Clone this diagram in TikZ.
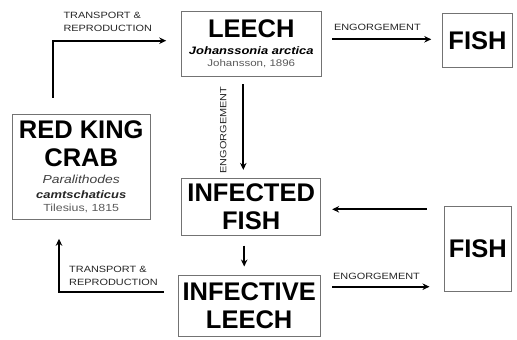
\documentclass[tikz,border=0pt]{standalone}
\usepackage{fontspec}
\setmainfont{Liberation Sans}
\newfontfamily\widesans[FakeStretch=1.2]{Liberation Sans}
\usetikzlibrary{arrows.meta}

\begin{document}
\begin{tikzpicture}[x=1pt, y=-1pt, >={Stealth[length=7pt, width=6.5pt]},
    box node/.style={draw=black!55, line width=0.9pt, align=center, inner sep=0pt, font=\fontsize{25.5}{28.5}\selectfont\bfseries},
    flow/.style={->, line width=1.8pt},
    flow label/.style={font=\widesans\fontsize{9.1}{13.7}\selectfont, text=black!85, align=left, inner sep=0pt}]
  \useasboundingbox (0,0) rectangle (517,340);

  \node[box node, minimum width=140.7, minimum height=65.7] (leech) at (251.3,43.8)
    {LEECH\\[-11.5pt]{\widesans\fontsize{10.8}{12}\selectfont\itshape Johanssonia arctica}\\[-16.1pt]{\widesans\fontsize{9.6}{11}\selectfont\mdseries\color{black!65}Johansson, 1896}};
  \node[box node, minimum width=69.6, minimum height=54.4] (fish1) at (477.5,40.5) {FISH};
  \node[box node, minimum width=137.7, minimum height=105] (crab) at (81.2,166.5)
    {RED KING\\CRAB\\[-11.2pt]{\widesans\fontsize{11.6}{13}\selectfont\mdseries\itshape\color{black!75}Paralithodes}\\[-13.5pt]{\widesans\fontsize{10.8}{12}\selectfont\itshape\color{black!85}camtschaticus}\\[-16.2pt]{\widesans\fontsize{10.3}{12}\selectfont\mdseries\color{black!65}Tilesius, 1815}};
  \node[box node, minimum width=139, minimum height=56.7] (infected) at (251.2,206.7) {INFECTED\\FISH};
  \node[box node, minimum width=67.7, minimum height=85.7] (fish2) at (477.8,248.8) {FISH};
  \node[box node, minimum width=141.7, minimum height=61.7] (infective) at (249.2,305.8) {INFECTIVE\\LEECH};

  % engorgement
  \draw[flow, shorten <=10pt, shorten >=11pt] ([yshift=4.5]leech.east) -- ([yshift=4.5]leech.east -| fish1.west)
    node[flow label, pos=0, anchor=base west, xshift=11, yshift=8.6] {ENGORGEMENT};
  \draw[flow, shorten <=7pt, shorten >=8pt] ([xshift=-8]leech.south) -- ([xshift=-8]leech.south |- infected.north)
    node[flow label, pos=0.525, rotate=90, anchor=south, inner ysep=16pt] {ENGORGEMENT};
  \draw[flow, shorten <=10pt, shorten >=8pt] ([xshift=-7]infected.south) -- ([xshift=-7]infected.south |- infective.north);
  \draw[flow, shorten <=17pt, shorten >=11pt] ([yshift=-2.6]infected.east -| fish2.west) -- ([yshift=-2.6]infected.east);
  \draw[flow, shorten <=11.7pt, shorten >=14pt] ([yshift=19.1]infective.east) -- ([yshift=19.1]infective.east -| fish2.west)
    node[flow label, pos=0, anchor=base west, xshift=11.7, yshift=7.4] {ENGORGEMENT};

  % transport
  \draw[flow, shorten <=16pt, shorten >=14.3pt] ([xshift=-28]crab.north) |- ([yshift=3.1]leech.west)
    node[flow label, pos=0.5, anchor=south west, xshift=9.4, yshift=8] {TRANSPORT \&\\REPRODUCTION};
  \draw[flow, shorten <=14pt, shorten >=19.3pt] ([yshift=14.1]infective.west) -| ([xshift=-22.2]crab.south)
    node[flow label, pos=0.5, anchor=south west, xshift=9.3, yshift=5] {TRANSPORT \&\\REPRODUCTION};
\end{tikzpicture}
\end{document}
